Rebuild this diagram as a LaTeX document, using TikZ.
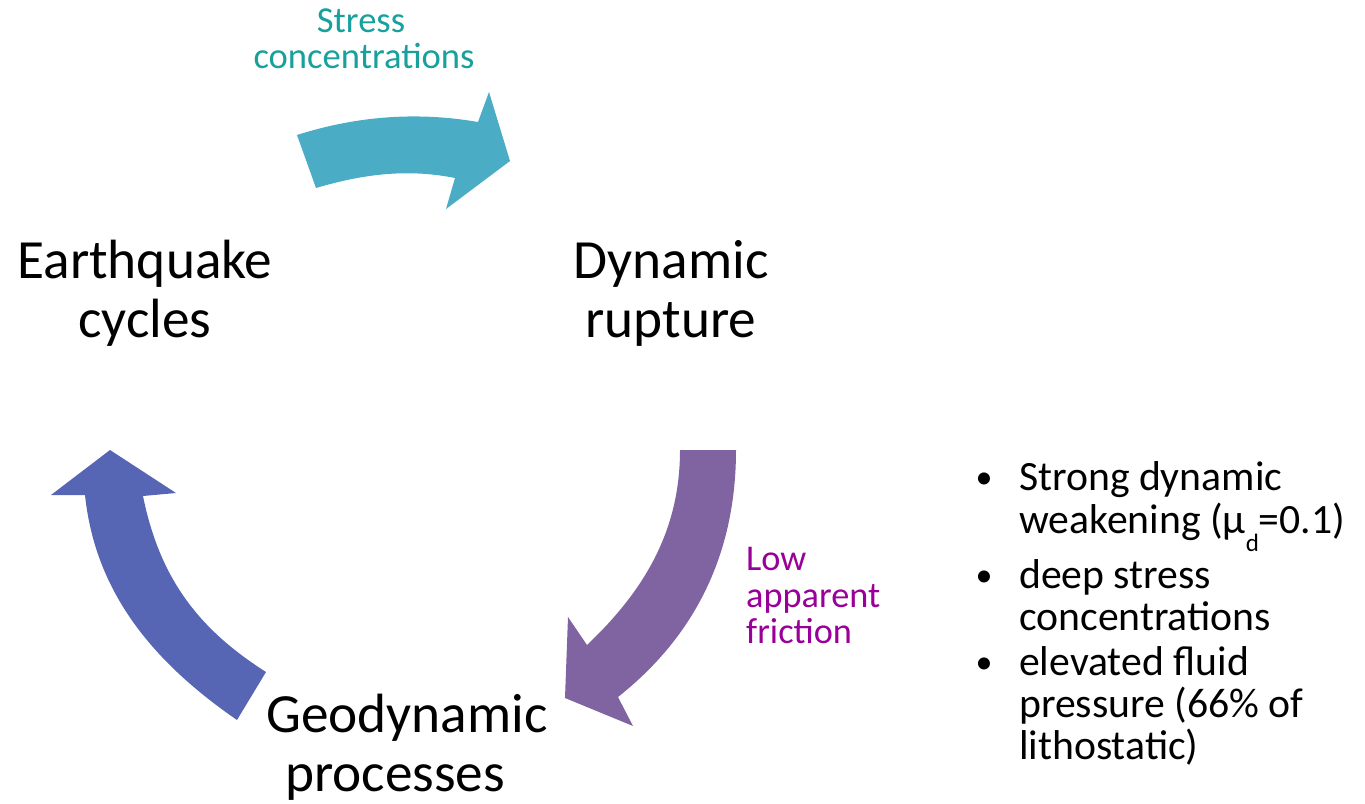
\documentclass[tikz,border=0pt]{standalone}
\usepackage{fontspec}
\setmainfont{Carlito}
\definecolor{tealarrow}{HTML}{4BACC6}
\definecolor{purplearrow}{HTML}{8064A2}
\definecolor{bluearrow}{HTML}{5766B4}
\definecolor{tealtext}{HTML}{17A09C}
\definecolor{purpletext}{HTML}{990099}
\begin{document}
\begin{tikzpicture}[x=1pt,y=-1pt,
  mainlbl/.style={anchor=base,inner sep=0pt,font=\fontsize{55.3}{59}\selectfont},
  teallbl/.style={anchor=base,inner sep=0pt,text=tealtext,font=\fontsize{36.6}{37}\selectfont},
  purplbl/.style={anchor=base west,inner sep=0pt,text=purpletext,font=\fontsize{36.3}{37}\selectfont},
  bullbl/.style={anchor=base west,inner sep=0pt,font=\fontsize{41.7}{43}\selectfont},
  bulletdot/.style={anchor=base,inner sep=0pt,font=\fontsize{34}{34}\selectfont}]
\useasboundingbox (0,0) rectangle (1365,803);
% arrows
\fill[tealarrow] (297,135) .. controls (360,115) and (420,112) .. (478,122) -- (489,92) -- (510,161) -- (446,209) -- (455,178) .. controls (405,168) and (360,175) .. (316,188) -- cycle;
\fill[purplearrow] (680,450) -- (736,450) .. controls (736,560) and (690,640) .. (618,697) -- (633,726) -- (565,698) -- (568,617) -- (587,645) .. controls (645,590) and (680,530) .. (680,450) -- cycle;
\fill[bluearrow] (110,450) -- (176,493) -- (143,496) .. controls (160,580) and (200,630) .. (266,672) -- (237,720) .. controls (150,660) and (95,590) .. (85,495) -- (51,495) -- cycle;
% main labels
\node[mainlbl] (eq1) at (145,278) {Earthquake};
\node[mainlbl] (eq2) at (145,337) {cycles};
\node[mainlbl] (dr1) at (671,278) {Dynamic};
\node[mainlbl] (dr2) at (671,337) {rupture};
\node[mainlbl] (gp1) at (407,732) {Geodynamic};
\node[mainlbl] (gp2) at (395,791) {processes};
% arrow labels
\node[teallbl] (sc1) at (361,32) {Stress};
\node[teallbl] (sc2) at (364,68) {concentrations};
\node[purplbl] (lf1) at (746,570) {Low};
\node[purplbl] (lf2) at (746,607) {apparent};
\node[purplbl] (lf3) at (746,643) {friction};
% bullets
\node[bulletdot] (b1) at (984,488) {•};
\node[bullbl] (t1) at (1019,490) {Strong dynamic};
\node[bullbl] (t2) at (1019,533) {weakening (μ\raisebox{-0.45em}{\fontsize{25}{25}\selectfont d}=0.1)};
\node[bulletdot] (b2) at (984,586) {•};
\node[bullbl] (t3) at (1019,588) {deep stress};
\node[bullbl] (t4) at (1019,630) {concentrations};
\node[bulletdot] (b3) at (984,673) {•};
\node[bullbl] (t5) at (1019,675) {elevated fluid};
\node[bullbl] (t6) at (1019,717) {pressure (66\% of};
\node[bullbl] (t7) at (1019,759) {lithostatic)};
\end{tikzpicture}
\end{document}
